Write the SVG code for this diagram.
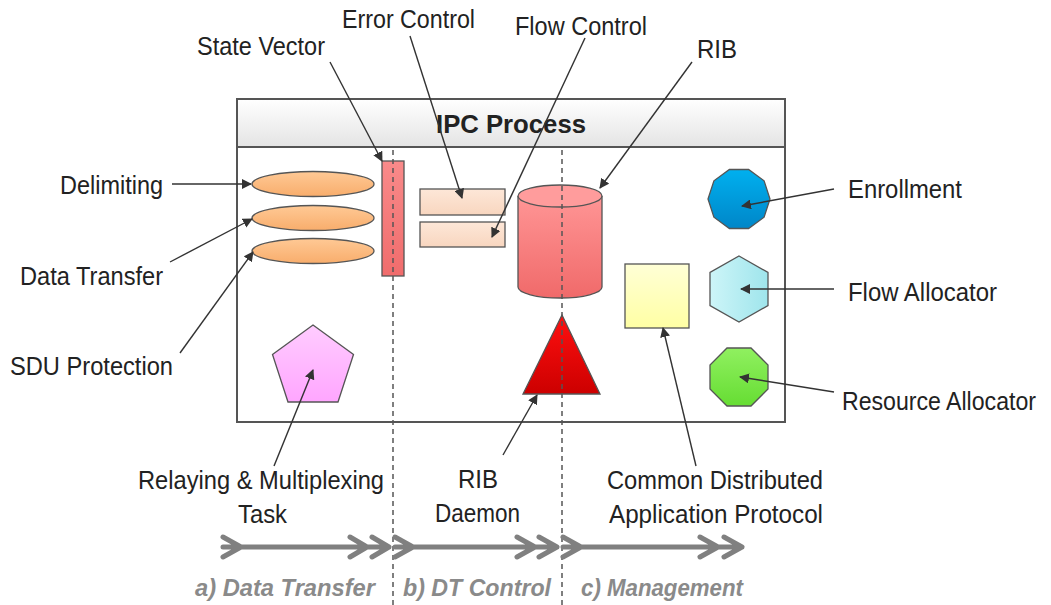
<svg xmlns="http://www.w3.org/2000/svg" width="1051" height="605" viewBox="0 0 1051 605">
<defs>
  <linearGradient id="gHead" x1="0" y1="0" x2="0" y2="1"><stop offset="0" stop-color="#ffffff"/><stop offset="1" stop-color="#e4e4e4"/></linearGradient>
  <linearGradient id="gOrange" x1="0" y1="0" x2="0" y2="1"><stop offset="0" stop-color="#ffc995"/><stop offset="1" stop-color="#f8ad6c"/></linearGradient>
  <linearGradient id="gSalmon" x1="0" y1="0" x2="0" y2="1"><stop offset="0" stop-color="#f98a8a"/><stop offset="1" stop-color="#f06c6c"/></linearGradient>
  <linearGradient id="gPeach" x1="0" y1="0" x2="0" y2="1"><stop offset="0" stop-color="#fde7d8"/><stop offset="1" stop-color="#f8d6bf"/></linearGradient>
  <linearGradient id="gCyl" x1="0" y1="0" x2="0" y2="1"><stop offset="0" stop-color="#ff9595"/><stop offset="1" stop-color="#f06a6a"/></linearGradient>
  <linearGradient id="gYellow" x1="0" y1="0" x2="0" y2="1"><stop offset="0" stop-color="#ffffd6"/><stop offset="1" stop-color="#ffffa4"/></linearGradient>
  <linearGradient id="gBlue" x1="0" y1="0" x2="0" y2="1"><stop offset="0" stop-color="#00b0ef"/><stop offset="1" stop-color="#0086c8"/></linearGradient>
  <linearGradient id="gCyan" x1="0" y1="0" x2="1" y2="0"><stop offset="0" stop-color="#cdf5f8"/><stop offset="1" stop-color="#9fe5ec"/></linearGradient>
  <linearGradient id="gGreen" x1="0" y1="0" x2="0" y2="1"><stop offset="0" stop-color="#90f060"/><stop offset="1" stop-color="#66dd33"/></linearGradient>
  <linearGradient id="gPink" x1="0" y1="0" x2="0" y2="1"><stop offset="0" stop-color="#ffccff"/><stop offset="1" stop-color="#ffa6ff"/></linearGradient>
  <linearGradient id="gRed" x1="0" y1="0" x2="0" y2="1"><stop offset="0" stop-color="#ff1010"/><stop offset="1" stop-color="#cc0000"/></linearGradient>
  <marker id="ah" viewBox="0 0 10 10" refX="9" refY="5" markerWidth="10" markerHeight="10" markerUnits="userSpaceOnUse" orient="auto">
    <path d="M0,0 L10,5 L0,10 z" fill="#333"/>
  </marker>
</defs>
<style>
  .shape { stroke: #555; stroke-width: 1.3; }
  .lbl { font-family: "Liberation Sans", Arial, sans-serif; font-size: 25px; fill: #222; }
  .sec { font-family: "Liberation Sans", Arial, sans-serif; font-size: 24px; font-weight: bold; font-style: italic; fill: #8a8a8a; }
  .conn { stroke: #333; stroke-width: 1.4; fill: none; marker-end: url(#ah); }
  .dash { stroke: #555; stroke-width: 1.5; stroke-dasharray: 5 4; fill: none; }
  .flow { stroke: #808080; stroke-width: 5; fill: none; stroke-linecap: round; stroke-linejoin: round; }
</style>

<g id="ipc-process">
  <rect x="237" y="99" width="548" height="323" fill="#ffffff" stroke="#555" stroke-width="2"/>
  <rect x="237" y="99" width="548" height="48" fill="url(#gHead)" stroke="#555" stroke-width="2"/>
  <text x="511" y="133" text-anchor="middle" font-family="Liberation Sans, Arial, sans-serif" font-size="25" font-weight="bold" fill="#222" textLength="150" lengthAdjust="spacingAndGlyphs">IPC Process</text>
</g>

<g id="delimiting"><ellipse cx="313" cy="184" rx="61" ry="12.5" fill="url(#gOrange)" class="shape"/></g>
<g id="data-transfer"><ellipse cx="313" cy="218" rx="61" ry="12.5" fill="url(#gOrange)" class="shape"/></g>
<g id="sdu-protection"><ellipse cx="313" cy="251" rx="61" ry="12.5" fill="url(#gOrange)" class="shape"/></g>
<g id="state-vector"><rect x="382" y="161" width="22" height="115" fill="url(#gSalmon)" class="shape"/></g>
<g id="error-control"><rect x="420" y="189" width="85" height="26" fill="url(#gPeach)" class="shape"/></g>
<g id="flow-control"><rect x="420" y="222" width="85" height="25" fill="url(#gPeach)" class="shape"/></g>
<g id="rib">
  <path d="M518,196 L518,287 A42,11 0 0 0 602,287 L602,196" fill="url(#gCyl)" class="shape"/>
  <ellipse cx="560" cy="196" rx="42" ry="11" fill="#ff9c9c" class="shape"/>
</g>
<g id="cdap"><rect x="625" y="264" width="64" height="64" fill="url(#gYellow)" class="shape"/></g>
<g id="enrollment"><polygon points="729.4,169.5 748.6,169.5 764.1,180.8 770,199 764.1,217.2 748.6,228.5 729.4,228.5 713.9,217.2 708,199 713.9,180.8" fill="url(#gBlue)" class="shape"/></g>
<g id="flow-allocator"><polygon points="739,256 768,272.5 768,305.5 739,322 710,305.5 710,272.5" fill="url(#gCyan)" class="shape"/></g>
<g id="resource-allocator"><polygon points="727,348 751,348 768,365 768,389 751,406 727,406 710,389 710,365" fill="url(#gGreen)" class="shape"/></g>
<g id="relaying"><polygon points="313,325 353.5,354.5 338,402 288,402 272.5,354.5" fill="url(#gPink)" class="shape"/></g>
<g id="rib-daemon"><polygon points="562,315 600,394 523,394" fill="url(#gRed)" class="shape"/></g>

<g id="section-dividers">
  <line x1="393" y1="150" x2="393" y2="605" class="dash"/>
  <line x1="562" y1="150" x2="562" y2="605" class="dash"/>
</g>

<g id="connectors">
  <line x1="330" y1="62" x2="382" y2="161" class="conn"/>
  <line x1="410" y1="36" x2="462" y2="198" class="conn"/>
  <line x1="585" y1="38" x2="492" y2="237" class="conn"/>
  <line x1="692" y1="62" x2="600" y2="188" class="conn"/>
  <line x1="172" y1="184" x2="251" y2="184" class="conn"/>
  <line x1="170" y1="262" x2="252" y2="219" class="conn"/>
  <line x1="180" y1="353" x2="253" y2="252" class="conn"/>
  <line x1="274" y1="466" x2="313" y2="370" class="conn"/>
  <line x1="503" y1="455" x2="537" y2="395" class="conn"/>
  <line x1="696" y1="466" x2="663" y2="328" class="conn"/>
  <line x1="834" y1="189" x2="742" y2="206" class="conn"/>
  <line x1="834" y1="289" x2="741" y2="289" class="conn"/>
  <line x1="834" y1="392" x2="740" y2="377" class="conn"/>
</g>

<g id="flow-arrows">
  <path class="flow" d="M223,547 L389,547 M223,537 L241,547 L223,557 M350,537 L367,547 L350,557 M372,537 L389,547 L372,557"/>
  <path class="flow" d="M395,547 L557,547 M395,537 L413,547 L395,557 M517,537 L535,547 L517,557 M539,537 L557,547 L539,557"/>
  <path class="flow" d="M563,547 L742,547 M563,537 L581,547 L563,557 M700,537 L718,547 L700,557 M724,537 L742,547 L724,557"/>
</g>

<g id="labels">
  <text class="lbl" x="197" y="55" textLength="128" lengthAdjust="spacingAndGlyphs">State Vector</text>
  <text class="lbl" x="342" y="28" textLength="133" lengthAdjust="spacingAndGlyphs">Error Control</text>
  <text class="lbl" x="515" y="35" textLength="132" lengthAdjust="spacingAndGlyphs">Flow Control</text>
  <text class="lbl" x="697" y="58" textLength="40" lengthAdjust="spacingAndGlyphs">RIB</text>
  <text class="lbl" x="60" y="194" textLength="103" lengthAdjust="spacingAndGlyphs">Delimiting</text>
  <text class="lbl" x="20" y="285" textLength="143" lengthAdjust="spacingAndGlyphs">Data Transfer</text>
  <text class="lbl" x="10" y="375" textLength="163" lengthAdjust="spacingAndGlyphs">SDU Protection</text>
  <text class="lbl" x="848" y="198" textLength="114" lengthAdjust="spacingAndGlyphs">Enrollment</text>
  <text class="lbl" x="848" y="301" textLength="149" lengthAdjust="spacingAndGlyphs">Flow Allocator</text>
  <text class="lbl" x="842" y="410" font-size="24" textLength="194" lengthAdjust="spacingAndGlyphs">Resource Allocator</text>
  <text class="lbl" x="138" y="489" textLength="246" lengthAdjust="spacingAndGlyphs">Relaying &amp; Multiplexing</text>
  <text class="lbl" x="238" y="523" textLength="49" lengthAdjust="spacingAndGlyphs">Task</text>
  <text class="lbl" x="458" y="488" textLength="40" lengthAdjust="spacingAndGlyphs">RIB</text>
  <text class="lbl" x="435" y="522" textLength="85" lengthAdjust="spacingAndGlyphs">Daemon</text>
  <text class="lbl" x="607" y="489" textLength="216" lengthAdjust="spacingAndGlyphs">Common Distributed</text>
  <text class="lbl" x="609" y="523" textLength="214" lengthAdjust="spacingAndGlyphs">Application Protocol</text>
  <text class="sec" x="195" y="596" textLength="180" lengthAdjust="spacingAndGlyphs">a) Data Transfer</text>
  <text class="sec" x="403" y="596" textLength="148" lengthAdjust="spacingAndGlyphs">b) DT Control</text>
  <text class="sec" x="581" y="596" textLength="162" lengthAdjust="spacingAndGlyphs">c) Management</text>
</g>
</svg>
